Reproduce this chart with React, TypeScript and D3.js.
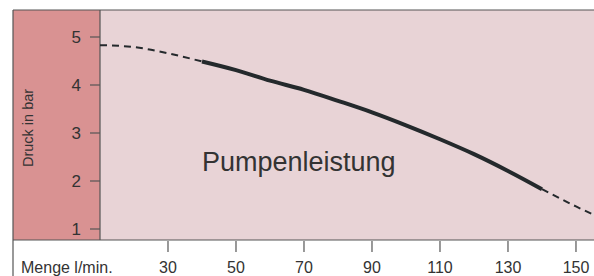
import { useMemo } from 'react'
import * as d3 from 'd3'

// Förderkurve
const flow = [10, 20, 30, 40, 50, 60, 70, 80, 90, 100, 110, 120, 130, 140, 150, 156]
const pressure = [4.83, 4.79, 4.66, 4.49, 4.31, 4.09, 3.9, 3.67, 3.43, 3.16, 2.87, 2.56, 2.21, 1.83, 1.47, 1.27]
const solidFrom = 40
const solidTo = 140

const yTicks = [1, 2, 3, 4, 5]
const xTicks = [30, 50, 70, 90, 110, 130, 150]

const W = 594
const H = 276
const frame = { left: 13, top: 10, panel: 100, bottom: 240 }

export default function App() {
  const x = d3.scaleLinear().domain([10, 155.3]).range([frame.panel, W])
  const y = d3.scaleLinear().domain([1, 5]).range([229, 37])

  const pts = useMemo(() => flow.map((f, i) => ({ f, p: pressure[i] })), [])
  const line = d3
    .line<{ f: number; p: number }>()
    .x(d => x(d.f))
    .y(d => y(d.p))
    .curve(d3.curveMonotoneX)

  const head = pts.filter(d => d.f <= solidFrom)
  const body = pts.filter(d => d.f >= solidFrom && d.f <= solidTo)
  const tail = pts.filter(d => d.f >= solidTo)

  const axisColor = '#555'
  const font = 'Arial, "Liberation Sans", sans-serif'

  return (
    <svg
      width={W}
      height={H}
      style={{ position: 'absolute', left: 0, top: 0, fontFamily: font }}
    >
      <defs>
        <clipPath id="plot">
          <rect x={frame.panel} y={frame.top} width={W - frame.panel} height={frame.bottom - frame.top} />
        </clipPath>
      </defs>
      <rect x={0} y={0} width={W} height={H} fill="#fff" />
      <rect x={frame.left} y={frame.top} width={frame.panel - frame.left} height={frame.bottom - frame.top} fill="#d99292" />
      <rect x={frame.panel} y={frame.top} width={W - frame.panel} height={frame.bottom - frame.top} fill="#e8d3d6" />

      {/* Rahmen */}
      <line x1={frame.left} x2={W} y1={frame.top} y2={frame.top} stroke={axisColor} strokeWidth={1.2} />
      <line x1={frame.left} x2={frame.left} y1={frame.top} y2={H} stroke={axisColor} strokeWidth={1.2} />
      <line x1={frame.panel} x2={frame.panel} y1={frame.top} y2={frame.bottom} stroke={axisColor} strokeWidth={1.2} />
      <line x1={frame.left} x2={W} y1={frame.bottom} y2={frame.bottom} stroke={axisColor} strokeWidth={1.2} />

      {yTicks.map(t => (
        <g key={t}>
          <line x1={frame.panel - 10} x2={frame.panel} y1={y(t)} y2={y(t)} stroke={axisColor} strokeWidth={1.2} />
          <text x={81} y={y(t)} dy="0.36em" textAnchor="end" fontSize={17} fill="#333">
            {t}
          </text>
        </g>
      ))}

      {xTicks.map(t => (
        <g key={t}>
          <line x1={x(t)} x2={x(t)} y1={frame.bottom + 1} y2={frame.bottom + 12} stroke={axisColor} strokeWidth={1.2} />
          <text x={x(t)} y={273} textAnchor="middle" fontSize={16} fill="#333">
            {t}
          </text>
        </g>
      ))}

      <text x={21} y={273} fontSize={16} fill="#333">
        Menge l/min.
      </text>
      <text transform="translate(33,128) rotate(-90)" textAnchor="middle" fontSize={14.5} fill="#333">
        Druck in bar
      </text>

      <text x={202} y={171} fontSize={27} fill="#333">
        Pumpenleistung
      </text>

      <g clipPath="url(#plot)" fill="none" stroke="#24292c">
        <path d={line(head) ?? ''} strokeWidth={2} strokeDasharray="7 5" />
        <path d={line(body) ?? ''} strokeWidth={4} />
        <path d={line(tail) ?? ''} strokeWidth={2} strokeDasharray="7 5" />
      </g>
    </svg>
  )
}
